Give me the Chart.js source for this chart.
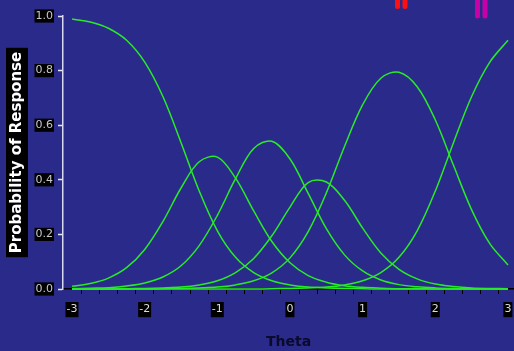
<!DOCTYPE html>
<html lang="en">
<head>
<meta charset="UTF-8">
<title>Category response curves</title>
<style>
  html, body { margin: 0; padding: 0; background: #2a2a8a; }
  #wrap { width: 514px; height: 351px; }
</style>
</head>
<body>
<div id="wrap"><canvas id="chartIrt"></canvas></div>

<script src="https://cdn.jsdelivr.net/npm/chart.js@4/dist/chart.umd.min.js"></script>
<script>
// theta grid and category probabilities
const thetaValues = [-3, -2.75, -2.5, -2.25, -2, -1.75, -1.5, -1.25, -1, -0.75, -0.5, -0.25,
  0, 0.25, 0.5, 0.75, 1, 1.25, 1.5, 1.75, 2, 2.25, 2.5, 2.75, 3];

const category1 = [0.989, 0.978, 0.955, 0.911, 0.831, 0.705, 0.536, 0.359, 0.213, 0.116, 0.060, 0.030,
  0.015, 0.007, 0.004, 0.002, 0.001, 0, 0, 0, 0, 0, 0, 0, 0];
const category2 = [0.010, 0.020, 0.040, 0.078, 0.145, 0.247, 0.370, 0.466, 0.483, 0.406, 0.286, 0.174,
  0.096, 0.049, 0.025, 0.012, 0.006, 0.003, 0.001, 0.001, 0, 0, 0, 0, 0];
const category3 = [0.001, 0.003, 0.005, 0.011, 0.022, 0.044, 0.085, 0.159, 0.270, 0.404, 0.515, 0.541,
  0.476, 0.350, 0.221, 0.125, 0.066, 0.033, 0.016, 0.008, 0.004, 0.002, 0.001, 0.001, 0];
const category4 = [0, 0, 0, 0.001, 0.002, 0.004, 0.007, 0.015, 0.030, 0.060, 0.112, 0.195,
  0.300, 0.390, 0.392, 0.325, 0.223, 0.132, 0.072, 0.037, 0.018, 0.009, 0.004, 0.002, 0.001];
const category5 = [0, 0, 0, 0, 0, 0.001, 0.002, 0.004, 0.007, 0.015, 0.030, 0.059,
  0.114, 0.210, 0.352, 0.522, 0.675, 0.772, 0.794, 0.741, 0.619, 0.453, 0.290, 0.166, 0.088];
const category6 = [0, 0, 0, 0, 0, 0, 0, 0, 0, 0, 0, 0.001,
  0.002, 0.004, 0.007, 0.015, 0.030, 0.060, 0.116, 0.213, 0.359, 0.536, 0.705, 0.831, 0.911];

const yTickValues = [0, 0.2, 0.4, 0.6, 0.8, 1.0];
const xTickLabels = ['-3', '-2', '-1', '0', '1', '2', '3'];
const minorStep = 0.25;

const yTitle = 'Probability of Response';
const xTitle = 'Theta';

const series = [category1, category2, category3, category4, category5, category6];

const BG = '#2a2a8a';
const LINE = 'rgb(40,235,40)';

// background + black box behind the rotated y title, drawn before the scales
const backdropPlugin = {
  id: 'backdrop',
  beforeDraw(chart) {
    const ctx = chart.ctx;
    ctx.save();
    ctx.fillStyle = BG;
    ctx.fillRect(0, 0, chart.width, chart.height);
    const ys = chart.scales.y;
    ctx.font = 'bold 15px "DejaVu Sans"';
    const w = ctx.measureText(yTitle).width;
    const cy = (ys.top + ys.bottom) / 2;
    ctx.fillStyle = '#000';
    ctx.fillRect(6, cy - w / 2 - 4, 22, w + 8);
    ctx.restore();
  },
  afterDraw(chart) {
    // clipped markers peeking in at the top edge
    const ctx = chart.ctx;
    ctx.save();
    ctx.lineCap = 'round';
    ctx.lineWidth = 5;
    const bar = (x, y2, col) => {
      ctx.strokeStyle = col;
      ctx.beginPath();
      ctx.moveTo(x, -6);
      ctx.lineTo(x, y2);
      ctx.stroke();
    };
    bar(397.5, 6.5, '#ff1010');
    bar(405, 6.5, '#ff1010');
    bar(477.5, 16, '#c800a8');
    bar(485, 16, '#c800a8');
    ctx.restore();
  }
};

new Chart('chartIrt', {
  type: 'line',
  data: {
    datasets: series.map(vals => ({
      data: thetaValues.map((t, i) => ({ x: t, y: vals[i] })),
      borderColor: LINE,
      borderWidth: 1.5,
      pointRadius: 0,
      fill: false,
      tension: 0.35,
      clip: false
    }))
  },
  options: {
    responsive: true,
    maintainAspectRatio: false,
    animation: false,
    events: [],
    layout: { padding: { top: 16, left: 0, right: 0, bottom: 0 } },
    plugins: {
      legend: { display: false },
      tooltip: { enabled: false }
    },
    scales: {
      x: {
        type: 'linear',
        min: -3.125,
        max: 3.083,
        afterFit(scale) { scale.height = 62; },
        afterBuildTicks(scale) {
          const first = Number(xTickLabels[0]) - minorStep / 2;
          const ticks = [];
          for (let k = 0; k < (xTickLabels.length - 1) / minorStep + 1; k++) {
            ticks.push({ value: first + k * minorStep });
          }
          scale.ticks = ticks;
        },
        border: { display: true, color: '#000', width: 1.5 },
        grid: {
          drawOnChartArea: false,
          drawTicks: true,
          tickLength: 5,
          tickWidth: 1,
          tickColor: c => (c.index === 0 ? 'transparent' : '#000')
        },
        ticks: {
          autoSkip: false,
          maxRotation: 0,
          padding: 9,
          labelOffset: 9,
          color: '#dcdcdc',
          font: { family: 'DejaVu Sans', size: 11 },
          showLabelBackdrop: true,
          backdropColor: c => (c.tick && c.tick.label ? '#000' : 'transparent'),
          backdropPadding: { x: 1, y: 1 },
          callback(value) {
            const n = value + minorStep / 2;
            const r = Math.round(n);
            if (Math.abs(n - r) < 1e-6) {
              const lbl = xTickLabels.find(s => Number(s) === r);
              return lbl !== undefined ? lbl : '';
            }
            return '';
          }
        },
        title: {
          display: true,
          text: xTitle,
          color: '#0a0a2c',
          font: { family: 'DejaVu Sans', size: 14, weight: 'bold' },
          padding: { top: 0, bottom: 0 }
        }
      },
      y: {
        type: 'linear',
        min: 0,
        max: 1,
        afterFit(scale) { scale.width = 63; },
        afterBuildTicks(scale) {
          scale.ticks = yTickValues.map(v => ({ value: v }));
        },
        border: { display: true, color: '#d8d8ee', width: 1.5 },
        grid: {
          drawOnChartArea: false,
          tickLength: 5,
          tickWidth: 1.5,
          tickColor: '#e8e8f4'
        },
        ticks: {
          padding: 5,
          color: '#c8c8c8',
          font: { family: 'DejaVu Sans', size: 11 },
          showLabelBackdrop: true,
          backdropColor: '#000',
          backdropPadding: { x: 1, y: 0 },
          callback: v => v.toFixed(1)
        },
        title: {
          display: true,
          text: yTitle,
          color: '#ffffff',
          font: { family: 'DejaVu Sans', size: 15, weight: 'bold' },
          padding: { top: 8, bottom: 0 }
        }
      }
    }
  },
  plugins: [backdropPlugin]
});
</script>
</body>
</html>
